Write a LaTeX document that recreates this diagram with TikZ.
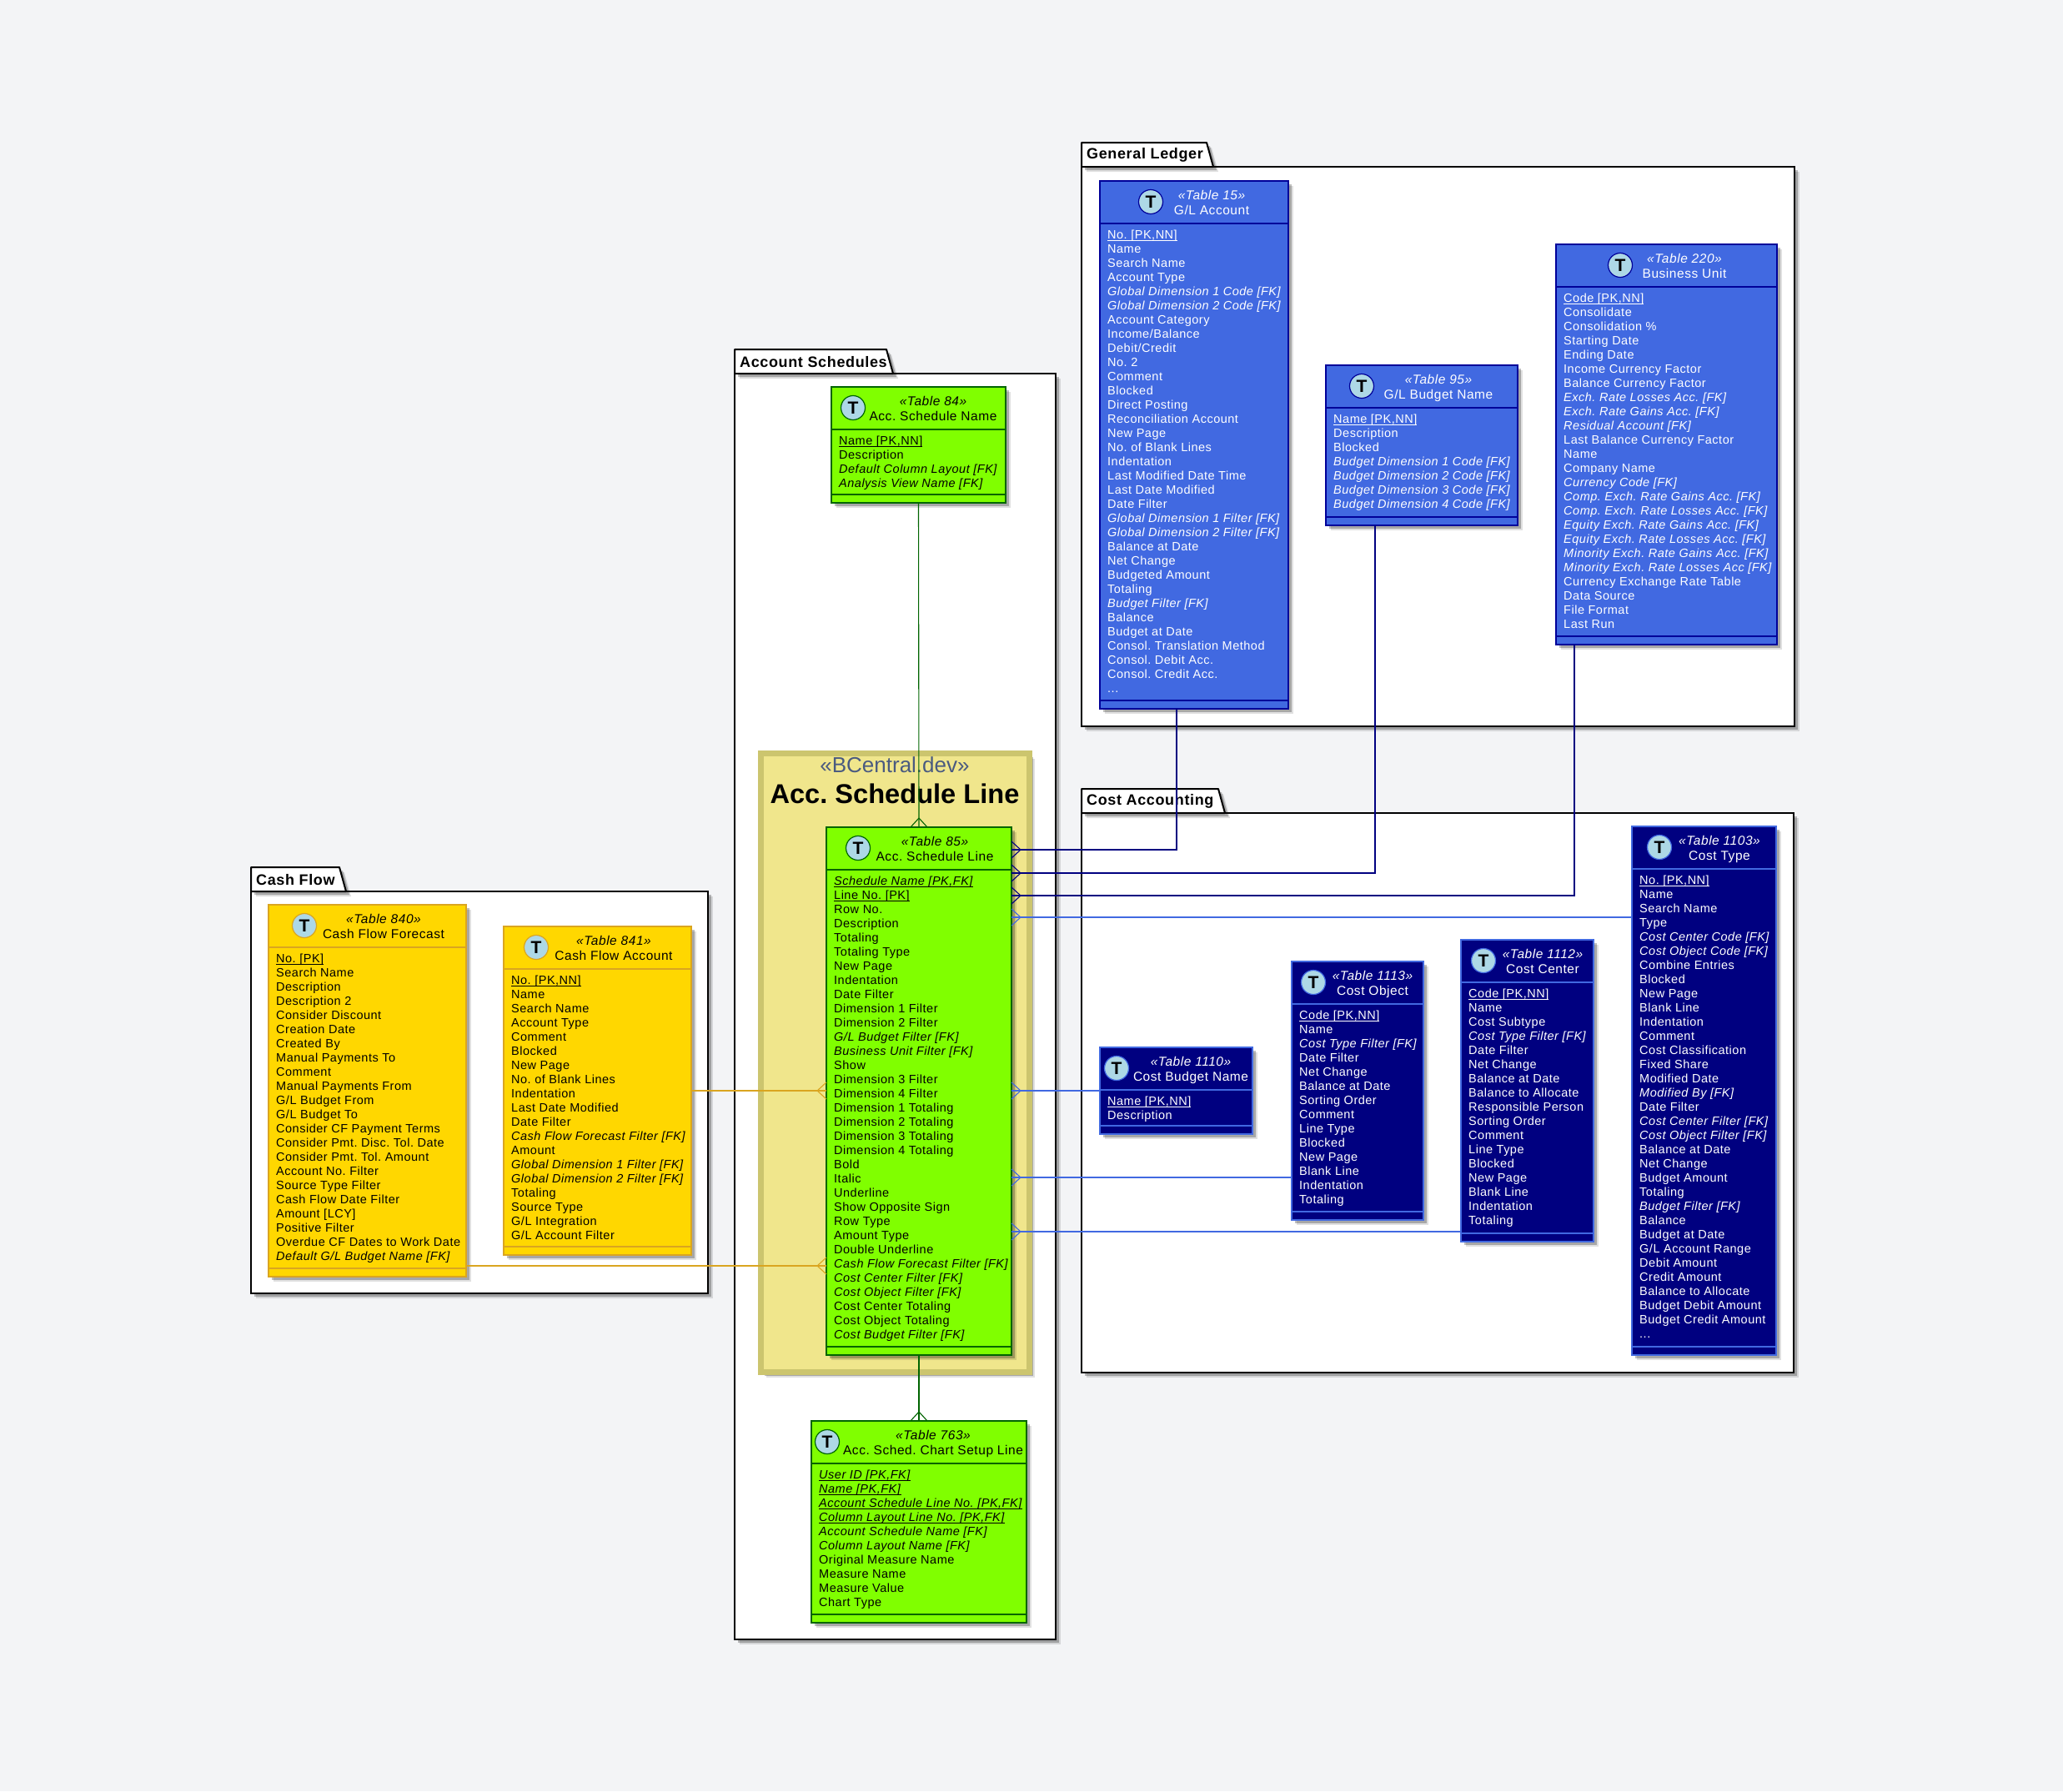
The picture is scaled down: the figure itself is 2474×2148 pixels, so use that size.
\documentclass[tikz,border=0pt]{standalone}
\usepackage{fontspec}
\setmainfont{Liberation Sans}[LetterSpace=3.5]
\newfontfamily\plainfont{Liberation Sans}
\usetikzlibrary{shadows}

\definecolor{pagebg}{HTML}{F3F4F6}
\definecolor{royal}{HTML}{4169E1}
\definecolor{darkblue}{HTML}{000099}
\definecolor{navyfill}{HTML}{000080}
\definecolor{chart}{HTML}{80FF00}
\definecolor{darkgreen}{HTML}{006400}
\definecolor{goldfill}{HTML}{FFD700}
\definecolor{goldline}{HTML}{DAA520}
\definecolor{khakifill}{HTML}{F0E68C}
\definecolor{khakiline}{HTML}{CCC56E}
\definecolor{iconblue}{HTML}{ADD8E6}
\definecolor{tagslate}{HTML}{4A5A80}

\tikzset{
	softshadow/.style={
		drop shadow={shadow xshift=6pt,shadow yshift=-6pt,opacity=.12,fill=black},
		drop shadow={shadow xshift=4pt,shadow yshift=-4pt,opacity=.25,fill=black}},
	bluetable/.style={fill=royal,draw=darkblue,text=white},
	navytable/.style={fill=navyfill,draw=royal,text=white},
	greentable/.style={fill=chart,draw=darkgreen,text=black},
	goldtable/.style={fill=goldfill,draw=goldline,text=black},
	tablebody/.style={tablecol,softshadow,rectangle,line width=2pt,anchor=north west,outer sep=0pt,inner sep=0pt},
	tablesep/.style={tablecol,line width=2pt},
	tableicon/.style={tablecol,circle,fill=iconblue,text=black,line width=1.2pt,minimum size=29pt,inner sep=0pt,font=\plainfont\fontsize{21}{21}\selectfont\bfseries},
	tabletag/.style={tablecol,fill=none,draw=none,inner sep=0pt,text height=11pt,text depth=3pt,font=\fontsize{15.5}{17}\selectfont\itshape},
	tabletitle/.style={tablecol,fill=none,draw=none,inner sep=0pt,text height=11pt,text depth=3pt,font=\fontsize{15.5}{17}\selectfont},
	tablelist/.style={tablecol,fill=none,draw=none,anchor=north west,inner sep=0pt,align=left,font=\fontsize{14.5}{17}\selectfont},
	pkgframe/.style={draw=black,fill=white,softshadow,line width=2pt,rectangle,anchor=north west,outer sep=0pt,inner sep=0pt},
	pkgtab/.style={draw=black,fill=white,softshadow,line width=2pt,line join=round},
	pkglabel/.style={anchor=west,inner sep=0pt,font=\fontsize{18}{20}\selectfont\bfseries},
	gllink/.style={draw=navyfill,line width=1.1pt},
	costlink/.style={draw=royal,line width=1.1pt},
	schedlink/.style={draw=darkgreen,line width=1.1pt},
	cashlink/.style={draw=goldline,line width=1.1pt},
	crowfoot/.pic={\draw[pic actions] (0,0) -- (-11,10) (0,0) -- (-11,-10);}
}

% name, left, top, width, height
\newcommand{\tablebox}[5]{
	\node[tablebody,minimum width=#4pt,minimum height=#5pt] (#1) at (#2,#3) {};
	\draw[tablesep] ([shift={(0,50.5)}]#1.north west) -- ([shift={(0,50.5)}]#1.north east);
	\draw[tablesep] ([shift={(0,-10.5)}]#1.south west) -- ([shift={(0,-10.5)}]#1.south east);
}
% name, icon x, text x, table number, title
\newcommand{\tablehd}[5]{
	\node[tableicon] (#1icon) at ([shift={(#2,25)}]#1.north west) {T};
	\node[tabletag] (#1tag) at ([shift={(#3,18)}]#1.north west) {«Table #4»};
	\node[tabletitle] (#1title) at ([shift={(#3,36)}]#1.north west) {#5};
}
\newcommand{\tablefields}[2]{
	\node[tablelist] (#1list) at ([shift={(9,58.7)}]#1.north west) {\rule{0pt}{11pt}#2};
}
% name, left, top, width, height, tab width, label
\newcommand{\package}[7]{
	\node[pkgframe,minimum width=#4pt,minimum height=#5pt] (#1) at (#2,#3) {};
	\draw[pkgtab] (#1.north west) -- ++(0,-29) -- ++(#6,0) -- ++(8,29) -- cycle;
	\node[pkglabel] (#1label) at ([shift={(6,-14.3)}]#1.north west) {#7};
}
\newcommand{\pk}[1]{\underbar{#1}}
\newcommand{\fk}[1]{\textit{#1}}

\begin{document}
\frenchspacing
\begin{tikzpicture}[x=1pt,y=-1pt]
	\fill[pagebg] (0,0) rectangle (2474,2148);
	\useasboundingbox (0,0) rectangle (2474,2148);

	\package{ledgerpkg}{1297}{200}{855}{671}{150}{General Ledger}
	\package{schedpkg}{881}{448}{385}{1518}{182}{Account Schedules}
	\package{cashpkg}{301}{1069}{548}{482}{106}{Cash Flow}
	\package{costpkg}{1297}{975}{854}{671}{164}{Cost Accounting}

	% General Ledger
	\begin{scope}[tablecol/.style=bluetable]
		\tablebox{glaccount}{1319}{217}{226}{633}
		\tablehd{glaccount}{61}{134}{15}{G/L Account}
		\tablefields{glaccount}{\pk{No. [PK,NN]}\\Name\\Search Name\\Account Type\\\fk{Global Dimension 1 Code [FK]}\\\fk{Global Dimension 2 Code [FK]}\\Account Category\\Income/Balance\\Debit/Credit\\No. 2\\Comment\\Blocked\\Direct Posting\\Reconciliation Account\\New Page\\No. of Blank Lines\\Indentation\\Last Modified Date Time\\Last Date Modified\\Date Filter\\\fk{Global Dimension 1 Filter [FK]}\\\fk{Global Dimension 2 Filter [FK]}\\Balance at Date\\Net Change\\Budgeted Amount\\Totaling\\\fk{Budget Filter [FK]}\\Balance\\Budget at Date\\Consol. Translation Method\\Consol. Debit Acc.\\Consol. Credit Acc.\\...}

		\tablebox{glbudget}{1590}{438}{230}{192}
		\tablehd{glbudget}{43}{135}{95}{G/L Budget Name}
		\tablefields{glbudget}{\pk{Name [PK,NN]}\\Description\\Blocked\\\fk{Budget Dimension 1 Code [FK]}\\\fk{Budget Dimension 2 Code [FK]}\\\fk{Budget Dimension 3 Code [FK]}\\\fk{Budget Dimension 4 Code [FK]}}

		\tablebox{busunit}{1866}{293}{265}{480}
		\tablehd{busunit}{77}{154}{220}{Business Unit}
		\tablefields{busunit}{\pk{Code [PK,NN]}\\Consolidate\\Consolidation \%\\Starting Date\\Ending Date\\Income Currency Factor\\Balance Currency Factor\\\fk{Exch. Rate Losses Acc. [FK]}\\\fk{Exch. Rate Gains Acc. [FK]}\\\fk{Residual Account [FK]}\\Last Balance Currency Factor\\Name\\Company Name\\\fk{Currency Code [FK]}\\\fk{Comp. Exch. Rate Gains Acc. [FK]}\\\fk{Comp. Exch. Rate Losses Acc. [FK]}\\\fk{Equity Exch. Rate Gains Acc. [FK]}\\\fk{Equity Exch. Rate Losses Acc. [FK]}\\\fk{Minority Exch. Rate Gains Acc. [FK]}\\\fk{Minority Exch. Rate Losses Acc [FK]}\\Currency Exchange Rate Table\\Data Source\\File Format\\Last Run}
	\end{scope}

	% Account Schedules
	\node[softshadow,draw=khakiline,fill=khakifill,line width=7pt,rectangle,anchor=north west,outer sep=0pt,minimum width=322pt,minimum height=742pt] (schedrect) at (912.5,903.5) {};
	\node[inner sep=0pt,text=tagslate,font=\plainfont\fontsize{26}{26}\selectfont] (schedtag) at (1073,917) {«BCentral.dev»};
	\node[inner sep=0pt,font=\plainfont\fontsize{32.6}{33}\selectfont\bfseries] (schedtitle) at (1073,952) {Acc. Schedule Line};

	\begin{scope}[tablecol/.style=greentable]
		\tablebox{acname}{997}{464}{209}{139}
		\tablehd{acname}{26}{122}{84}{Acc. Schedule Name}
		\tablefields{acname}{\pk{Name [PK,NN]}\\Description\\\fk{Default Column Layout [FK]}\\\fk{Analysis View Name [FK]}}

		\tablebox{schedline}{991}{992}{222}{633}
		\tablehd{schedline}{38}{130}{85}{Acc. Schedule Line}
		\tablefields{schedline}{\pk{\fk{Schedule Name [PK,FK]}}\\\pk{Line No. [PK]}\\Row No.\\Description\\Totaling\\Totaling Type\\New Page\\Indentation\\Date Filter\\Dimension 1 Filter\\Dimension 2 Filter\\\fk{G/L Budget Filter [FK]}\\\fk{Business Unit Filter [FK]}\\Show\\Dimension 3 Filter\\Dimension 4 Filter\\Dimension 1 Totaling\\Dimension 2 Totaling\\Dimension 3 Totaling\\Dimension 4 Totaling\\Bold\\Italic\\Underline\\Show Opposite Sign\\Row Type\\Amount Type\\Double Underline\\\fk{Cash Flow Forecast Filter [FK]}\\\fk{Cost Center Filter [FK]}\\\fk{Cost Object Filter [FK]}\\Cost Center Totaling\\Cost Object Totaling\\\fk{Cost Budget Filter [FK]}}

		\tablebox{chartline}{973}{1704}{258}{242}
		\tablehd{chartline}{19}{146}{763}{Acc. Sched. Chart Setup Line}
		\tablefields{chartline}{\pk{\fk{User ID [PK,FK]}}\\\pk{\fk{Name [PK,FK]}}\\\pk{\fk{Account Schedule Line No. [PK,FK]}}\\\pk{\fk{Column Layout Line No. [PK,FK]}}\\\fk{Account Schedule Name [FK]}\\\fk{Column Layout Name [FK]}\\Original Measure Name\\Measure Name\\Measure Value\\Chart Type}
	\end{scope}

	% Cash Flow
	\begin{scope}[tablecol/.style=goldtable]
		\tablebox{cfforecast}{322}{1085}{237}{446}
		\tablehd{cfforecast}{43}{138}{840}{Cash Flow Forecast}
		\tablefields{cfforecast}{\pk{No. [PK]}\\Search Name\\Description\\Description 2\\Consider Discount\\Creation Date\\Created By\\Manual Payments To\\Comment\\Manual Payments From\\G/L Budget From\\G/L Budget To\\Consider CF Payment Terms\\Consider Pmt. Disc. Tol. Date\\Consider Pmt. Tol. Amount\\Account No. Filter\\Source Type Filter\\Cash Flow Date Filter\\Amount [LCY]\\Positive Filter\\Overdue CF Dates to Work Date\\\fk{Default G/L Budget Name [FK]}}

		\tablebox{cfaccount}{604}{1111}{225}{394}
		\tablehd{cfaccount}{39}{132}{841}{Cash Flow Account}
		\tablefields{cfaccount}{\pk{No. [PK,NN]}\\Name\\Search Name\\Account Type\\Comment\\Blocked\\New Page\\No. of Blank Lines\\Indentation\\Last Date Modified\\Date Filter\\\fk{Cash Flow Forecast Filter [FK]}\\Amount\\\fk{Global Dimension 1 Filter [FK]}\\\fk{Global Dimension 2 Filter [FK]}\\Totaling\\Source Type\\G/L Integration\\G/L Account Filter}
	\end{scope}

	% Cost Accounting
	\begin{scope}[tablecol/.style=navytable]
		\tablebox{costbudget}{1319}{1256}{183}{104}
		\tablehd{costbudget}{20}{109}{1110}{Cost Budget Name}
		\tablefields{costbudget}{\pk{Name [PK,NN]}\\Description}

		\tablebox{costobject}{1549}{1153}{158}{310}
		\tablehd{costobject}{26}{97}{1113}{Cost Object}
		\tablefields{costobject}{\pk{Code [PK,NN]}\\Name\\\fk{Cost Type Filter [FK]}\\Date Filter\\Net Change\\Balance at Date\\Sorting Order\\Comment\\Line Type\\Blocked\\New Page\\Blank Line\\Indentation\\Totaling}

		\tablebox{costcenter}{1752}{1127}{159}{362}
		\tablehd{costcenter}{27}{98}{1112}{Cost Center}
		\tablefields{costcenter}{\pk{Code [PK,NN]}\\Name\\Cost Subtype\\\fk{Cost Type Filter [FK]}\\Date Filter\\Net Change\\Balance at Date\\Balance to Allocate\\Responsible Person\\Sorting Order\\Comment\\Line Type\\Blocked\\New Page\\Blank Line\\Indentation\\Totaling}

		\tablebox{costtype}{1957}{991}{173}{634}
		\tablehd{costtype}{33}{105}{1103}{Cost Type}
		\tablefields{costtype}{\pk{No. [PK,NN]}\\Name\\Search Name\\Type\\\fk{Cost Center Code [FK]}\\\fk{Cost Object Code [FK]}\\Combine Entries\\Blocked\\New Page\\Blank Line\\Indentation\\Comment\\Cost Classification\\Fixed Share\\Modified Date\\\fk{Modified By [FK]}\\Date Filter\\\fk{Cost Center Filter [FK]}\\\fk{Cost Object Filter [FK]}\\Balance at Date\\Net Change\\Budget Amount\\Totaling\\\fk{Budget Filter [FK]}\\Balance\\Budget at Date\\G/L Account Range\\Debit Amount\\Credit Amount\\Balance to Allocate\\Budget Debit Amount\\Budget Credit Amount\\...}
	\end{scope}

	% links, on top of everything
	\draw[schedlink] (acname.south) -- (schedline.north);
	\pic[schedlink,rotate=90] at ([shift={(0,-11)}]schedline.north) {crowfoot};
	\draw[schedlink] (schedline.south) -- (chartline.north);
	\pic[schedlink,rotate=90] at ([shift={(0,-11)}]chartline.north) {crowfoot};

	\draw[gllink] ([shift={(-21,0)}]glaccount.south) |- ([shift={(0,27)}]schedline.north east);
	\pic[gllink] at ([shift={(11,27)}]schedline.north east) {crowfoot};
	\draw[gllink] ([shift={(-56,0)}]glbudget.south) |- ([shift={(0,55)}]schedline.north east);
	\pic[gllink] at ([shift={(11,55)}]schedline.north east) {crowfoot};
	\draw[gllink] ([shift={(-110.5,0)}]busunit.south) |- ([shift={(0,82)}]schedline.north east);
	\pic[gllink] at ([shift={(11,82)}]schedline.north east) {crowfoot};

	\draw[costlink] ([shift={(0,109)}]costtype.north west) -- ([shift={(0,108)}]schedline.north east);
	\pic[costlink] at ([shift={(11,108)}]schedline.north east) {crowfoot};
	\draw[costlink] (costbudget.west) -- (costbudget.west -| schedline.east);
	\pic[costlink] at ([shift={(11,0)}]costbudget.west -| schedline.east) {crowfoot};
	\draw[costlink] ([shift={(0,259)}]costobject.north west) -- ([shift={(0,420)}]schedline.north east);
	\pic[costlink] at ([shift={(11,420)}]schedline.north east) {crowfoot};
	\draw[costlink] ([shift={(0,350)}]costcenter.north west) -- ([shift={(0,485)}]schedline.north east);
	\pic[costlink] at ([shift={(11,485)}]schedline.north east) {crowfoot};

	\draw[cashlink] (cfaccount.east) -- (cfaccount.east -| schedline.west);
	\pic[cashlink,rotate=180] at ([shift={(-11,0)}]cfaccount.east -| schedline.west) {crowfoot};
	\draw[cashlink] ([shift={(0,433)}]cfforecast.north east) -- ([shift={(0,526)}]schedline.north west);
	\pic[cashlink,rotate=180] at ([shift={(-11,526)}]schedline.north west) {crowfoot};
\end{tikzpicture}
\end{document}
